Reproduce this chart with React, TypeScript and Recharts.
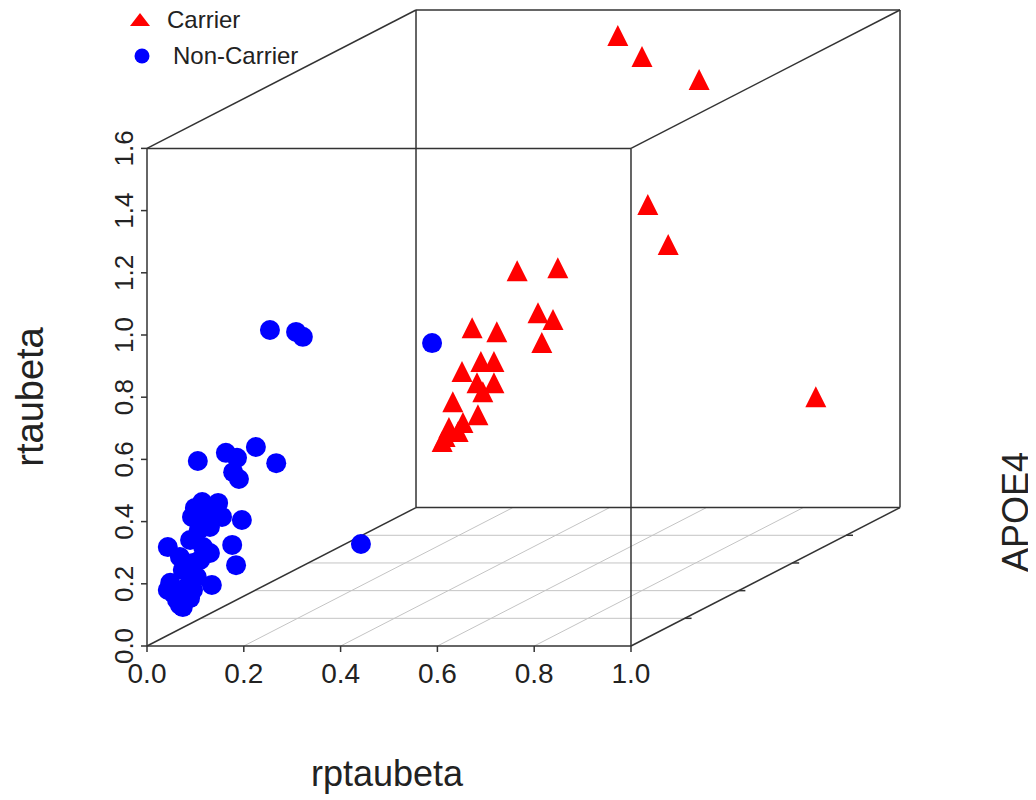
import React from 'react';
import { ScatterChart, Scatter, XAxis, YAxis, ReferenceLine, Legend } from 'recharts';

// rptaubeta / rtaubeta values, APOE4 non-carriers (APOE4 = 0)
const nonCarrierRpt = [0.254, 0.308, 0.322, 0.589, 0.442, 0.105, 0.163, 0.186, 0.225, 0.267, 0.178, 0.19, 0.114, 0.147, 0.099, 0.155, 0.196, 0.093, 0.126, 0.107, 0.13, 0.176, 0.043, 0.089, 0.116, 0.13, 0.184, 0.068, 0.095, 0.074, 0.103, 0.134, 0.048, 0.054, 0.062, 0.074, 0.089, 0.083, 0.095, 0.068, 0.043, 0.11];
const nonCarrierRt = [1.016, 1.01, 0.994, 0.974, 0.328, 0.595, 0.621, 0.605, 0.64, 0.588, 0.559, 0.537, 0.463, 0.46, 0.444, 0.415, 0.405, 0.415, 0.415, 0.373, 0.383, 0.325, 0.318, 0.341, 0.318, 0.299, 0.26, 0.286, 0.267, 0.244, 0.222, 0.196, 0.203, 0.17, 0.148, 0.125, 0.154, 0.19, 0.18, 0.132, 0.18, 0.277];

// APOE4 carriers (APOE4 = 1)
const carrierRpt = [0.417, 0.467, 0.585, 0.479, 0.521, 0.826, 0.209, 0.293, 0.252, 0.283, 0.26, 0.116, 0.167, 0.134, 0.161, 0.095, 0.126, 0.161, 0.138, 0.076, 0.128, 0.097, 0.068, 0.087, 0.06, 0.054];
const carrierRt = [1.516, 1.449, 1.375, 0.973, 0.844, 0.355, 0.76, 0.77, 0.625, 0.603, 0.529, 0.577, 0.564, 0.468, 0.468, 0.436, 0.4, 0.4, 0.371, 0.339, 0.297, 0.272, 0.256, 0.243, 0.227, 0.211];

const xTicks = [0, 0.2, 0.4, 0.6, 0.8, 1.0];
const yTicks = [0, 0.2, 0.4, 0.6, 0.8, 1.0, 1.2, 1.4, 1.6];
const depthTicks = [0.2, 0.4, 0.6, 0.8];

// oblique projection of the APOE4 (depth) axis, in data units
const X_MAX = 1.0;
const Y_MAX = 1.6;
const DX = 0.5558;
const DY = 0.445;

const project = (xs: number[], ys: number[], depth: number) =>
  xs.map((x, i) => ({ px: x + depth * DX, py: ys[i] + depth * DY }));

const nonCarrierData = project(nonCarrierRpt, nonCarrierRt, 0);
const carrierData = project(carrierRpt, carrierRt, 1);

const FONT = '"Liberation Sans", Arial, Helvetica, sans-serif';
const BOX = '#333333';
const GRID = '#c4c4c4';
const TXT = '#222222';

const Tri = (props: any) => {
  const { cx, cy, fill } = props;
  if (cx == null || cy == null) return null;
  return <polygon points={`${cx},${cy - 11} ${cx - 10.5},${cy + 10} ${cx + 10.5},${cy + 10}`} fill={fill} />;
};
const Dot = (props: any) => {
  const { cx, cy, fill } = props;
  if (cx == null || cy == null) return null;
  return <circle cx={cx} cy={cy} r={10} fill={fill} />;
};

const YTick = (props: any) => {
  const { x, y, payload } = props;
  return (
    <text x={x} y={y} transform={`rotate(-90, ${x}, ${y})`} textAnchor="middle" fontSize={26} fill={TXT} fontFamily={FONT}>
      {Number(payload.value).toFixed(1)}
    </text>
  );
};

const LegendContent = (props: any) => {
  const payload = props.payload || [];
  return (
    <svg width={280} height={90} style={{ overflow: 'visible' }}>
      {payload.map((p: any, i: number) => {
        const cy = 12 + i * 36;
        return (
          <g key={p.value}>
            {p.value === 'Carrier' ? (
              <polygon points={`${25},${cy - 7} ${15},${cy + 6} ${35},${cy + 6}`} fill={p.color} />
            ) : (
              <circle cx={27} cy={cy} r={7.5} fill={p.color} />
            )}
            <text x={p.value === 'Carrier' ? 52 : 58} y={cy + 8} fontSize={24} fill={TXT} fontFamily={FONT}>
              {p.value}
            </text>
          </g>
        );
      })}
    </svg>
  );
};

type Seg = [number, number, number, number];
const boxSegs: Seg[] = [
  // back face
  [DX, DY, X_MAX + DX, DY],
  [DX, DY, DX, Y_MAX + DY],
  [DX, Y_MAX + DY, X_MAX + DX, Y_MAX + DY],
  [X_MAX + DX, DY, X_MAX + DX, Y_MAX + DY],
  // connectors
  [0, 0, DX, DY],
  [X_MAX, 0, X_MAX + DX, DY],
  [0, Y_MAX, DX, Y_MAX + DY],
  [X_MAX, Y_MAX, X_MAX + DX, Y_MAX + DY],
  // front face
  [0, 0, X_MAX, 0],
  [0, 0, 0, Y_MAX],
  [0, Y_MAX, X_MAX, Y_MAX],
  [X_MAX, 0, X_MAX, Y_MAX],
];

const gridSegs: Seg[] = [
  ...depthTicks.map((d) => [d * DX, d * DY, X_MAX + d * DX, d * DY] as Seg),
  ...xTicks.filter((t) => t > 0 && t < X_MAX).map((t) => [t, 0, t + DX, DY] as Seg),
];

const depthTickSegs: Seg[] = depthTicks.map((d) => [X_MAX + d * DX, d * DY, X_MAX + d * DX + 0.014, d * DY] as Seg);

export default function App() {
  return (
    <div style={{ width: 1028, height: 792, position: 'relative', fontFamily: FONT }}>
      <ScatterChart width={1028} height={792} margin={{ top: 2, right: 136, bottom: 104, left: 79 }}>
        <XAxis
          type="number"
          dataKey="px"
          domain={[0, X_MAX + DX]}
          ticks={xTicks}
          allowDataOverflow
          axisLine={false}
          tickLine={{ stroke: BOX, strokeWidth: 1.5 }}
          tickSize={6}
          tickMargin={11}
          height={50}
          tickFormatter={(v: number) => v.toFixed(1)}
          tick={{ fontSize: 28, fill: TXT, fontFamily: FONT }}
          interval={0}
          label={{
            content: () => (
              <text x={379} y={778} textAnchor="middle" fontSize={36} fill={TXT} fontFamily={FONT}>
                rptaubeta
              </text>
            ),
          }}
        />
        <YAxis
          type="number"
          dataKey="py"
          domain={[0, Y_MAX + DY]}
          ticks={yTicks}
          allowDataOverflow
          axisLine={false}
          tickLine={{ stroke: BOX, strokeWidth: 1.5 }}
          tickSize={6}
          tickMargin={8}
          width={60}
          tick={<YTick />}
          interval={0}
          label={{
            content: () => (
              <g>
                <text x={35} y={389} transform="rotate(-90, 35, 389)" textAnchor="middle" fontSize={38} fill={TXT} fontFamily={FONT}>
                  rtaubeta
                </text>
                <text x={1020} y={504} transform="rotate(-90, 1020, 504)" textAnchor="middle" fontSize={36} fill={TXT} fontFamily={FONT}>
                  APOE4
                </text>
              </g>
            ),
          }}
        />
        {gridSegs.map((s, i) => (
          <ReferenceLine key={`g${i}`} segment={[{ x: s[0], y: s[1] }, { x: s[2], y: s[3] }]} stroke={GRID} strokeWidth={1} ifOverflow="visible" />
        ))}
        {boxSegs.map((s, i) => (
          <ReferenceLine key={`b${i}`} segment={[{ x: s[0], y: s[1] }, { x: s[2], y: s[3] }]} stroke={BOX} strokeWidth={1.5} ifOverflow="visible" />
        ))}
        {depthTickSegs.map((s, i) => (
          <ReferenceLine key={`d${i}`} segment={[{ x: s[0], y: s[1] }, { x: s[2], y: s[3] }]} stroke={BOX} strokeWidth={1.5} ifOverflow="visible" />
        ))}
        <Scatter name="Carrier" data={carrierData} fill="#ff0000" shape={<Tri />} isAnimationActive={false} />
        <Scatter name="Non-Carrier" data={nonCarrierData} fill="#0000ff" shape={<Dot />} isAnimationActive={false} />
        <Legend
          layout="vertical"
          align="center"
          verticalAlign="middle"
          content={<LegendContent />}
          wrapperStyle={{ left: 107, top: 0, width: 280, height: 90 }}
        />
      </ScatterChart>
    </div>
  );
}
